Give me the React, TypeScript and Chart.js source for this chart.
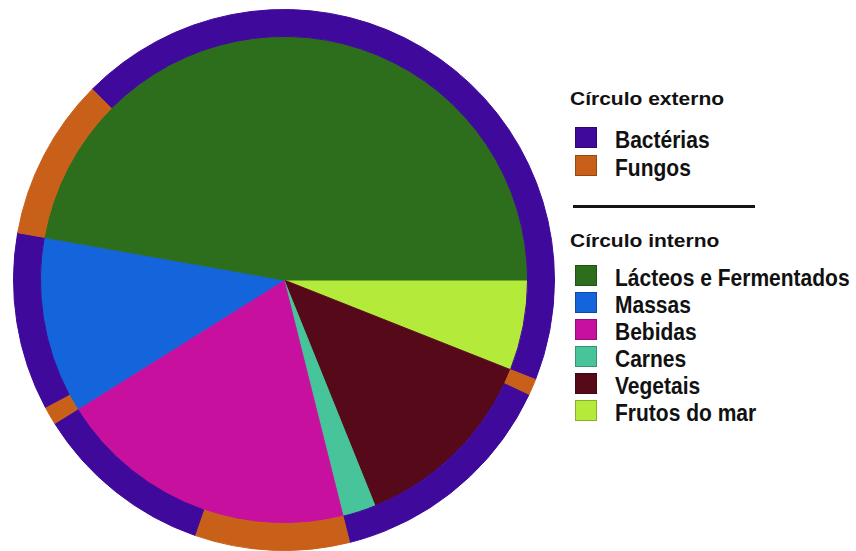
import React, { useEffect, useRef } from 'react';
import { Chart, registerables } from 'chart.js';

Chart.register(...registerables);

// Inner circle (food categories), legend order, % of total
const categories = ['Lácteos e Fermentados', 'Massas', 'Bebidas', 'Carnes', 'Vegetais', 'Frutos do mar'];
const innerValues = [47.2, 11.7, 20.0, 2.2, 12.9, 6.0];
const innerColors = ['#2d6e1c', '#1464dc', '#c8109e', '#48c49a', '#560a19', '#b4ea3a'];

// Outer circle (microorganism type within each category), % of total
const outerLabels = ['Bactérias', 'Fungos'];
const outerColors = ['#3f0a9b', '#c8601a'];
const fungiValues = [9.7, 1.1, 9.25, 0, 1.0, 0];
const bacteriaValues = [37.5, 10.6, 10.75, 2.2, 11.9, 6.0];

const FONT = '"Liberation Sans", Arial, Helvetica, sans-serif';

export default function App() {
  const ref = useRef<HTMLCanvasElement | null>(null);

  useEffect(() => {
    if (!ref.current) return;
    // Slices are drawn clockwise from 3 o'clock in reverse legend order
    const order = categories.map((_, i) => i).reverse();
    const outerData: number[] = [];
    const outerBg: string[] = [];
    const outerLbl: string[] = [];
    order.forEach((i) => {
      if (fungiValues[i] > 0) {
        outerData.push(fungiValues[i]);
        outerBg.push(outerColors[1]);
        outerLbl.push(outerLabels[1] + ' – ' + categories[i]);
      }
      if (bacteriaValues[i] > 0) {
        outerData.push(bacteriaValues[i]);
        outerBg.push(outerColors[0]);
        outerLbl.push(outerLabels[0] + ' – ' + categories[i]);
      }
    });
    const innerData = order.map((i) => innerValues[i]);
    const innerBg = order.map((i) => innerColors[i]);

    const chart = new Chart(ref.current, {
      type: 'pie',
      data: {
        labels: outerLbl,
        datasets: [
          {
            data: outerData,
            backgroundColor: outerBg,
            borderColor: outerBg,
            borderWidth: 1,
            weight: 27,
          },
          {
            data: innerData,
            backgroundColor: innerBg,
            borderColor: innerBg,
            borderWidth: 1,
            weight: 244,
          },
        ],
      },
      options: {
        animation: false,
        responsive: false,
        maintainAspectRatio: false,
        devicePixelRatio: 1,
        rotation: 90,
        layout: { padding: 0 },
        plugins: {
          legend: { display: false },
          tooltip: { enabled: false },
        },
      } as any,
    });
    return () => chart.destroy();
  }, []);

  const itemStyle = (top: number): React.CSSProperties => ({
    position: 'absolute',
    left: 615,
    top: top,
    fontSize: 21,
    lineHeight: '21px',
    fontWeight: 700,
    whiteSpace: 'nowrap',
    color: '#111',
    transform: 'scaleY(1.12)',
    transformOrigin: '0 17.8px',
  });
  const titleStyle = (baseline: number): React.CSSProperties => ({
    position: 'absolute',
    left: 570,
    top: baseline - 17.8,
    fontSize: 21,
    lineHeight: '21px',
    fontWeight: 700,
    whiteSpace: 'nowrap',
    color: '#111',
    transform: 'scaleY(0.9)',
    transformOrigin: '0 17.8px',
  });
  const square = (top: number, color: string): React.CSSProperties => ({
    position: 'absolute',
    left: 575,
    top: top,
    width: 20,
    height: 19,
    background: color,
    border: '1px solid rgba(0,0,0,0.25)',
  });

  const outerTops = [127, 155];
  const innerTops = [265, 292, 319, 346, 373, 400];

  return (
    <div
      style={{
        position: 'absolute',
        left: 0,
        top: 0,
        width: 856,
        height: 551,
        background: '#fff',
        fontFamily: FONT,
        overflow: 'hidden',
      }}
    >
      <canvas
        ref={ref}
        width={542}
        height={542}
        style={{ position: 'absolute', left: 13, top: 9, width: 542, height: 542 }}
      />
      <div style={titleStyle(105)}>Círculo externo</div>
      {outerLabels.map((l, i) => (
        <React.Fragment key={l}>
          <div style={square(outerTops[i], outerColors[i])} />
          <div style={itemStyle(outerTops[i] + 21 - 17.8)}>{l}</div>
        </React.Fragment>
      ))}
      <div
        style={{ position: 'absolute', left: 573, top: 205, width: 182, height: 3, background: '#151515' }}
      />
      <div style={titleStyle(247)}>Círculo interno</div>
      {categories.map((c, i) => (
        <React.Fragment key={c}>
          <div style={square(innerTops[i], innerColors[i])} />
          <div style={itemStyle(innerTops[i] + 21 - 17.8)}>{c}</div>
        </React.Fragment>
      ))}
    </div>
  );
}
